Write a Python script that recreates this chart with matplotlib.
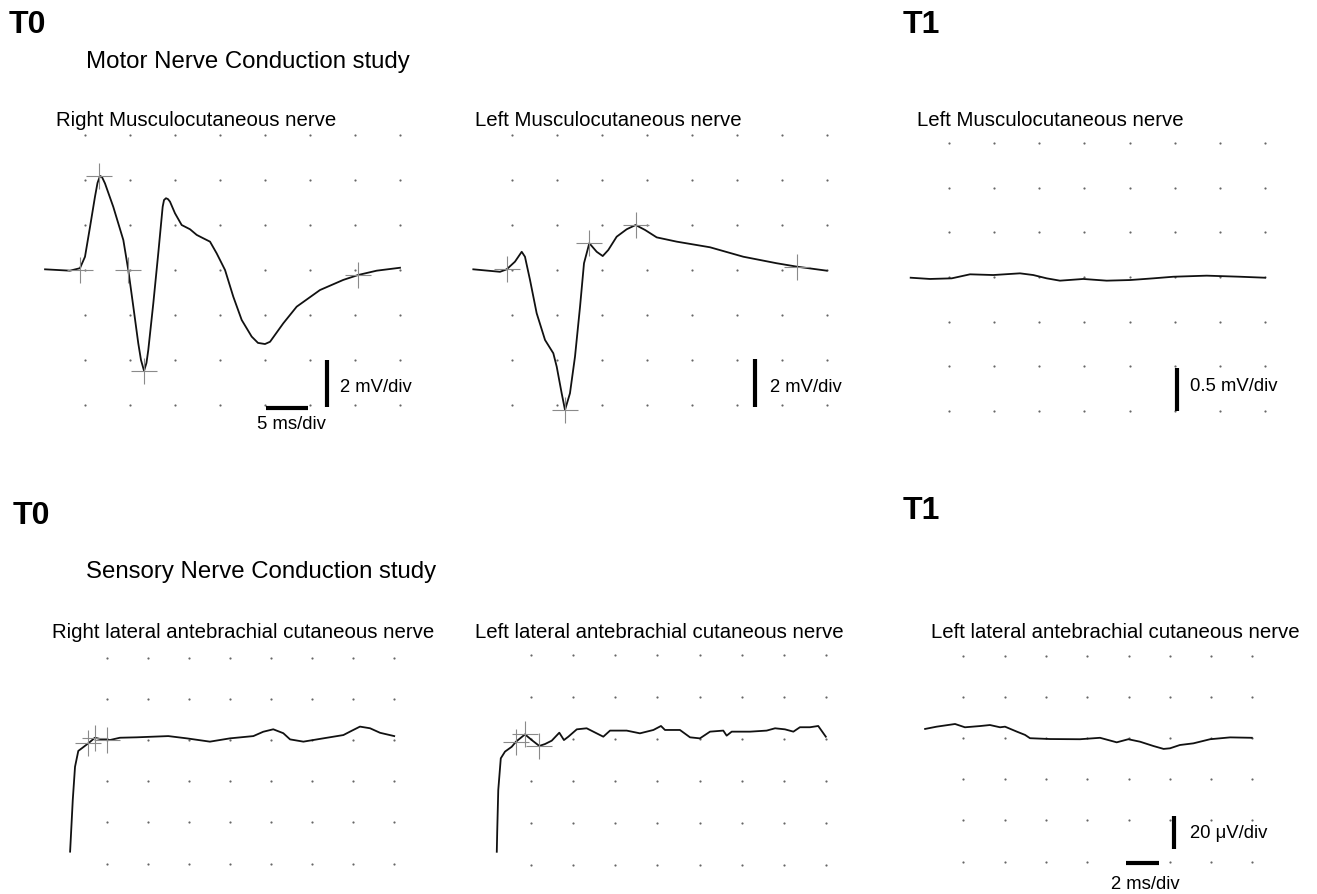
import matplotlib.pyplot as plt

plt.rcParams['font.family'] = ['Liberation Sans', 'DejaVu Sans']

W, H = 1317, 894

# ---- motor, T0, right musculocutaneous (ms, mV)
r_mc_t = [0.56, 3.33, 4.44, 5.0, 5.56, 6.11, 6.39, 6.67, 6.89, 7.22, 8.14, 9.26, 9.81, 10.37,
          10.92, 11.22, 11.56, 11.83, 12.03, 12.59, 13.14, 13.63, 13.78, 14.0, 14.22, 14.44,
          15.0, 15.74, 16.67, 17.41, 18.14, 18.89, 19.63, 20.56, 21.48, 22.41, 23.52, 24.22,
          25.0, 25.56, 27.03, 28.52, 31.11, 33.70, 35.37, 37.41, 40.0]
r_mc_v = [0.03, -0.03, 0.08, 0.59, 1.92, 3.26, 3.87, 4.18, 4.13, 3.85, 2.81, 1.33, 0.0, -1.63,
          -3.26, -4.0, -4.48, -4.13, -3.56, -1.48, 0.74, 2.81, 3.11, 3.19, 3.15, 3.04,
          2.52, 2.0, 1.81, 1.56, 1.41, 1.26, 0.74, 0.0, -1.19, -2.22, -2.96, -3.24,
          -3.29, -3.19, -2.37, -1.63, -0.89, -0.44, -0.22, -0.03, 0.10]
r_mc_cur_t = [4.44, 6.56, 9.78, 11.56, 35.33]
r_mc_cur_v = [0.0, 4.18, 0.0, -4.49, -0.22]

# ---- motor, T0, left musculocutaneous (ms, mV)
l_mc_t = [0.70, 3.67, 4.41, 5.33, 6.08, 6.44, 7.0, 7.74, 8.67, 9.59, 9.97, 10.52, 10.89, 11.44,
          12.0, 12.56, 13.0, 13.59, 14.41, 15.08, 15.70, 16.63, 17.74, 18.74, 19.78, 21.08,
          23.30, 27.0, 30.70, 34.41, 36.63, 39.97]
l_mc_v = [0.03, -0.08, 0.03, 0.37, 0.81, 0.59, -0.44, -1.92, -3.11, -3.70, -4.30, -5.48, -6.22, -5.48,
          -3.85, -1.63, 0.30, 1.19, 0.81, 0.62, 0.89, 1.48, 1.81, 2.0, 1.78, 1.45,
          1.26, 1.01, 0.59, 0.30, 0.15, -0.03]
l_mc_cur_t = [4.44, 10.89, 13.56, 18.78, 36.67]
l_mc_cur_v = [0.04, -6.22, 1.2, 2.0, 0.13]

# ---- motor, T1, left musculocutaneous (ms, mV)
t1_mc_t = [0.74, 2.88, 5.29, 7.32, 9.90, 12.86, 14.33, 15.82, 17.29, 19.88, 22.47, 25.06,
           27.64, 29.86, 33.56, 37.25, 40.02]
t1_mc_v = [-0.008, -0.022, -0.015, 0.030, 0.022, 0.041, 0.022, -0.015, -0.041, -0.022, -0.041,
           -0.034, -0.015, 0.003, 0.015, 0.003, -0.008]

# ---- sensory, T0, right LABC (ms, uV)
r_labc_t = [0.20, 0.23, 0.33, 0.44, 0.60, 0.84, 1.09, 1.41, 1.74, 2.15, 2.63, 3.45, 4.99, 5.89,
            7.02, 8.0, 9.14, 9.62, 10.11, 10.60, 10.93, 11.58, 12.55, 13.53, 13.94, 14.34,
            14.83, 15.32, 16.01]
r_labc_v = [-54.2, -48.5, -29.1, -13.0, -5.3, -3.5, -1.6, 1.1, 0.3, 0.0, 1.1, 1.3, 1.9, 0.8,
            -0.8, 0.8, 1.9, 4.0, 5.2, 3.3, 0.3, -0.8, 0.8, 2.4, 4.5, 6.5,
            5.7, 3.5, 1.9]
r_labc_cur_t = [1.07, 1.41, 2.0]
r_labc_cur_v = [-1.5, 1.0, 0.0]

# ---- sensory, T0, left LABC (ms, uV)
l_labc_t = [0.37, 0.39, 0.44, 0.56, 0.76, 1.08, 1.28, 1.71, 2.03, 2.39, 2.66, 2.98, 3.34, 3.56,
            3.77, 4.17, 4.64, 5.43, 5.75, 6.54, 7.17, 7.81, 8.17, 8.36, 9.07, 9.55, 10.02,
            10.50, 11.13, 11.29, 11.53, 12.40, 13.19, 13.59, 14.06, 14.46, 14.77, 15.25,
            15.64, 16.0]
l_labc_v = [-53.7, -44.1, -24.3, -9.2, -6.0, -3.7, -1.3, 2.2, -0.5, -3.3, -2.4, -0.8, 3.0, -0.5,
            1.1, 4.6, 5.1, 1.1, 4.0, 4.0, 2.7, 4.3, 6.2, 4.3, 4.3, 0.8, 0.3,
            3.5, 4.0, 1.6, 3.5, 3.5, 4.0, 5.1, 4.6, 3.5, 5.6, 5.6,
            6.2, 1.1]
l_labc_cur_t = [1.28, 1.71, 2.38]
l_labc_cur_v = [-1.4, 2.4, -3.3]

# ---- sensory, T1, left LABC (ms, uV)
t1_labc_t = [0.15, 0.71, 1.60, 2.08, 2.81, 3.29, 3.78, 4.02, 4.59, 4.99, 5.23, 6.20, 7.65, 8.62,
             9.43, 9.99, 10.56, 11.21, 11.70, 12.01, 12.49, 13.14, 13.95, 14.92, 15.97]
t1_labc_v = [4.4, 5.5, 6.8, 5.2, 5.8, 6.3, 5.2, 5.5, 3.1, 1.5, -0.1, -0.5, -0.6, 0.1,
             -2.1, -0.6, -1.8, -3.9, -5.3, -5.0, -3.4, -2.6, -0.6, 0.3, 0.1]

fig = plt.figure(figsize=(W / 100, H / 100), dpi=100)


def panel(box, x0, sx, y0, sy, xdiv, ydiv, rows):
    # box in pixels (left, top, right, bottom); x0/y0 = pixel of the zero column/row
    left, top, right, bottom = box
    ax = fig.add_axes([left / W, 1 - bottom / H, (right - left) / W, (bottom - top) / H])
    ax.set_xlim((left - x0) / sx * xdiv, (right - x0) / sx * xdiv)
    ax.set_ylim((y0 - bottom) / sy * ydiv, (y0 - top) / sy * ydiv)
    ax.axis('off')
    gx = [c * xdiv for c in range(1, 9) for r in rows]
    gy = [r * ydiv for c in range(1, 9) for r in rows]
    ax.scatter(gx, gy, s=2.5, color='#666666', lw=0)
    return ax


def trace(ax, t, v, ct=None, cv=None):
    ax.plot(t, v, color='#111111', lw=1.3, clip_on=False)
    if ct:
        ax.plot(ct, cv, '+', ms=19, mew=0.8, color='#8a8a8a', clip_on=False)


def vbar(ax, x, y1, y2):
    ax.plot([x, x], [y1, y2], color='k', lw=3, solid_capstyle='butt', clip_on=False)


def hbar(ax, x1, x2, y):
    ax.plot([x1, x2], [y, y], color='k', lw=3, solid_capstyle='butt', clip_on=False)


motor_rows = [3, 2, 1, 0, -1, -2, -3]
sens_rows = [2, 1, 0, -1, -2, -3]

ax1 = panel((30, 130, 430, 440), 40, 45, 270, 45, 5, 2, motor_rows)
trace(ax1, r_mc_t, r_mc_v, r_mc_cur_t, r_mc_cur_v)
vbar(ax1, 31.9, -4.0, -6.1)
hbar(ax1, 25.1, 29.8, -6.13)
ax1.text(33.3, -5.2, '2 mV/div', fontsize=13.3, va='center', ha='left')
ax1.text(27.9, -6.85, '5 ms/div', fontsize=13.3, va='center', ha='center')

ax2 = panel((460, 130, 860, 440), 467, 45, 270, 45, 5, 2, motor_rows)
trace(ax2, l_mc_t, l_mc_v, l_mc_cur_t, l_mc_cur_v)
vbar(ax2, 32.0, -3.96, -6.09)
ax2.text(33.7, -5.2, '2 mV/div', fontsize=13.3, va='center', ha='left')

ax3 = panel((890, 130, 1300, 440), 904, 45.1, 277, 44.7, 5, 0.5, motor_rows)
trace(ax3, t1_mc_t, t1_mc_v)
vbar(ax3, 30.3, -1.02, -1.5)
ax3.text(31.7, -1.23, '0.5 mV/div', fontsize=13.3, va='center', ha='left')

ax4 = panel((30, 645, 430, 880), 66, 41, 740, 41.2, 2, 20, sens_rows)
trace(ax4, r_labc_t, r_labc_v, r_labc_cur_t, r_labc_cur_v)

ax5 = panel((460, 645, 860, 880), 489, 42.1, 739, 42, 2, 20, sens_rows)
trace(ax5, l_labc_t, l_labc_v, l_labc_cur_t, l_labc_cur_v)

ax6 = panel((900, 645, 1310, 890), 922, 41.3, 738, 41.2, 2, 20, sens_rows)
trace(ax6, t1_labc_t, t1_labc_v)
vbar(ax6, 12.2, -37.9, -53.9)
hbar(ax6, 9.88, 11.48, -60.7)
ax6.text(12.98, -46.6, '20 \u03bcV/div', fontsize=13.3, va='center', ha='left')
ax6.text(10.8, -70.9, '2 ms/div', fontsize=13.3, va='center', ha='center')


def label(x, y, s, **kw):
    fig.text(x / W, 1 - y / H, s, va='center', ha='left', **kw)


label(9, 25, 'T0', fontsize=23, fontweight='bold')
label(903, 25, 'T1', fontsize=23, fontweight='bold')
label(13, 516, 'T0', fontsize=23, fontweight='bold')
label(903, 511, 'T1', fontsize=23, fontweight='bold')
label(86, 62, 'Motor Nerve Conduction study', fontsize=17.3)
label(86, 572, 'Sensory Nerve Conduction study', fontsize=17.3)
label(56, 121, 'Right Musculocutaneous nerve', fontsize=14.7)
label(475, 121, 'Left Musculocutaneous nerve', fontsize=14.7)
label(917, 121, 'Left Musculocutaneous nerve', fontsize=14.7)
label(52, 633, 'Right lateral antebrachial cutaneous nerve', fontsize=14.7)
label(475, 633, 'Left lateral antebrachial cutaneous nerve', fontsize=14.7)
label(931, 633, 'Left lateral antebrachial cutaneous nerve', fontsize=14.7)

fig.savefig('out.png', dpi=100)
